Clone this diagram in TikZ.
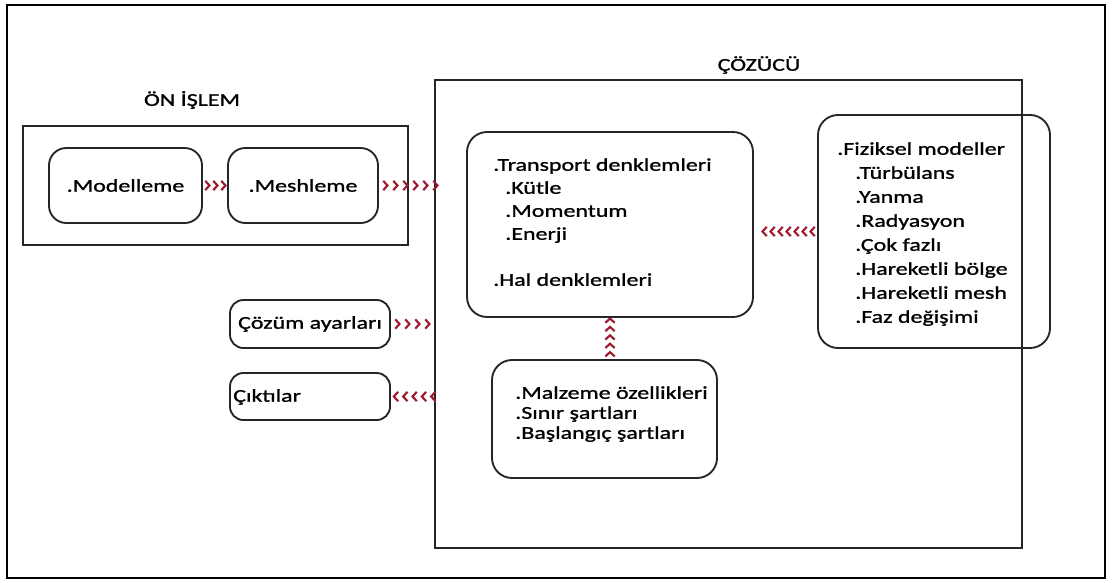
\documentclass[tikz,border=0pt]{standalone}
\usepackage{fontspec}
\setmainfont{Carlito}[FakeStretch=1.33,FakeBold=1.2]
\usetikzlibrary{arrows.meta,decorations.markings,calc}
\definecolor{chevred}{HTML}{9E1A2E}
\tikzset{
  box/.style={draw=black!85, line width=1.4pt, rounded corners=13pt, inner sep=0pt},
  frame/.style={draw=black!85, line width=1.4pt, inner sep=0pt},
  lbl/.style={font=\fontsize{13.5}{17}\selectfont, inner sep=0pt, text=black},
  chev/.style={postaction={decorate}, decoration={markings,
     mark=between positions #1 and 1 step #1 with {\arrow{Straight Barb[length=3.2pt,width=7pt,line width=1.6pt,color=chevred]}}}},
}
\begin{document}
\begin{tikzpicture}[x=0.75pt,y=-0.75pt]
\useasboundingbox (0,0) rectangle (1112,582);
\draw[line width=1.8pt] (7,5) rectangle (1105,578);

% ON ISLEM
\node[lbl] (ontitle) at (192,100) {ÖN İŞLEM};
\node[frame, minimum width=288.75pt, minimum height=89.25pt] (on) at (215.5,185.5) {};
\node[box, lbl, draw=black!85, minimum width=114.75pt, minimum height=56.25pt] (mod) at (125.5,185.5) {.Modelleme};
\node[box, lbl, draw=black!85, minimum width=112.5pt, minimum height=56.25pt] (mesh) at (303,185.5) {.Meshleme};

% COZUCU
\node[lbl] (coztitle) at (759,65) {ÇÖZÜCÜ};
\node[frame, minimum width=440.25pt, minimum height=351pt] (coz) at (728.5,314) {};
\node[box, rounded corners=15pt, minimum width=214.5pt, minimum height=138.75pt] (trans) at (610,224.5) {};
\node[lbl, align=left, anchor=north west, font=\fontsize{13.5}{17.25}\selectfont] (transtxt) at (493,158)
  {.Transport denklemleri\\\hspace*{9pt}.Kütle\\\hspace*{9pt}.Momentum\\\hspace*{9pt}.Enerji\\[17.25pt].Hal denklemleri};
\node[box, rounded corners=15pt, minimum width=174pt, minimum height=174.75pt] (fiz) at (934,231.5) {};
\node[lbl, align=left, anchor=north west, font=\fontsize{13.5}{18}\selectfont] (fiztxt) at (837,142)
  {.Fiziksel modeller\\\hspace*{13.5pt}.Türbülans\\\hspace*{13.5pt}.Yanma\\\hspace*{13.5pt}.Radyasyon\\\hspace*{13.5pt}.Çok fazlı\\\hspace*{13.5pt}.Hareketli bölge\\\hspace*{13.5pt}.Hareketli mesh\\\hspace*{13.5pt}.Faz değişimi};
\node[box, rounded corners=15pt, minimum width=168.75pt, minimum height=88.5pt] (mal) at (604.5,419) {};
\node[lbl, align=left, anchor=north west, font=\fontsize{13.5}{15}\selectfont] (maltxt) at (515,386)
  {.Malzeme özellikleri\\.Sınır şartları\\.Başlangıç şartları};

% left small boxes
\node[box, lbl, rounded corners=10pt, minimum width=120pt, minimum height=36pt] (cay) at (310,324) {Çözüm ayarları};
\node[box, rounded corners=10pt, minimum width=120pt, minimum height=35.25pt] (cik) at (310,396.5) {};
\node[lbl, anchor=west] (ciktxt) at (233,397) {Çıktılar};

% chevron connectors
\path[chev=6pt] (mod.east) -- (mesh.west);
\coordinate (c1) at ($(mesh.east -| coz.west)+(6,0)$);
\path[chev=7.5pt] (mesh.east) -- (c1);
\path[chev=6pt] (fiz.west) -- (fiz.west -| trans.east);
\coordinate (c4) at ($(trans.south)+(0,-6)$);
\path[chev=6.3pt] (mal.north -| trans.south) -- (c4);
\coordinate (c2) at ($(cay.east -| coz.west)+(5,0)$);
\path[chev=7.5pt] (cay.east) -- (c2);
\coordinate (c3) at ($(cik.east -| coz.west)+(5,0)$);
\path[chev=7pt] (c3) -- (cik.east);
\end{tikzpicture}
\end{document}
